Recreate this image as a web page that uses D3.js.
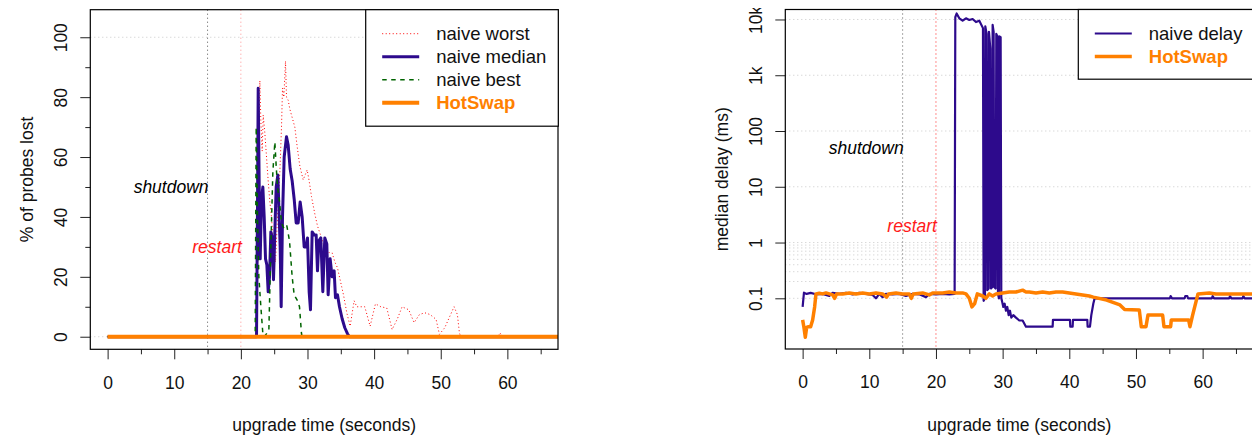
<!DOCTYPE html>
<html>
<head>
<meta charset="utf-8">
<script src="https://cdn.jsdelivr.net/npm/d3@7"></script>
<style>
  body { margin: 0; background: #fff; }
  svg { display: block; font-family: "Liberation Sans", Arial, Helvetica, sans-serif; }
</style>
</head>
<body>
<svg id="chart" width="1252" height="437"></svg>
<script>
// data: [seconds, value]
var timeTicks = [0, 10, 20, 30, 40, 50, 60];
var timeMinor = [5, 15, 25, 35, 45, 55, 65];
var lossTicks = [0, 20, 40, 60, 80, 100];
var lossMinor = [10, 30, 50, 70, 90];
var delayTicks = [0.1, 1, 10, 100, 1000, 10000];
var delayTickLabels = ["0.1", "1", "10", "100", "1k", "10k"];
var delayGrid = [0.2, 0.3, 0.4, 0.5, 0.6, 0.7, 0.8, 0.9];

var worstLoss = [[0,0],[22.45,0],[22.6,50],[22.85,85.5],[23.0,72],[23.2,62],[23.35,74],[23.6,68],[23.85,60],
  [24.1,52],[24.35,45],[24.6,40],[24.9,30],[25.2,25],[25.5,40],[25.85,55],[26.1,70],[26.25,83],[26.45,80],
  [26.7,92],[26.85,80],[27.1,79],[27.35,76],[27.6,74],[28.1,70],[28.45,63.5],[28.85,57],[29.35,52.4],
  [29.95,55.7],[30.25,52],[30.6,46.8],[31.1,41],[31.5,37],[32.1,33],[32.5,30],[32.9,29],[33.3,28],[33.7,28],
  [34.1,25],[34.5,23],[35.0,18],[35.4,14],[35.9,8],[36.4,3.5],[37.0,12],[37.4,10],[37.8,10],[38.6,10],
  [39.4,3.5],[40.2,11],[41.0,10],[41.9,9.6],[42.7,2.4],[43.5,6],[44.2,10],[45.2,9],[46.0,4.7],[46.8,7.4],
  [47.6,8],[48.4,7.4],[49.3,5.8],[49.8,0.8],[50.6,3],[51.4,7],[52.0,10],[52.5,7.4],[52.8,1.3],[53.0,0],
  [58.6,0],[58.9,1.3],[59.2,0],[70,0]];

var medianLoss = [[0,0],[22.35,0],[22.5,45],[22.6,83],[22.75,50],[22.9,26],[23.1,46],[23.3,50],[23.5,40],
  [23.7,26],[23.9,24],[24.1,15],[24.3,20],[24.5,35],[24.7,33],[24.9,19],[25.1,35],[25.3,50],[25.55,54],
  [25.75,40],[25.9,30],[26.05,10],[26.25,40],[26.5,60],[26.85,66.8],[27.1,64],[27.4,56],[27.7,52],[28.0,46],
  [28.3,38],[28.6,38],[28.9,45],[29.2,40],[29.5,30],[29.8,30],[30.0,33],[30.25,15],[30.45,9],[30.7,35],
  [31.0,34],[31.3,34],[31.5,22],[31.7,32],[32.0,33],[32.3,15],[32.6,33],[32.9,31],[33.1,14],[33.4,26],
  [33.7,20],[34.0,22],[34.2,13],[34.5,14],[34.8,10],[35.2,6],[35.6,3],[36.0,1],[36.3,0],[70,0]];

var bestLoss = [[0,0],[22.15,0],[22.3,70],[22.5,40],[22.7,20],[23.0,10],[23.3,1],[23.5,0],[24.2,2],
  [24.5,30],[24.8,55],[25.1,65],[25.3,57],[25.5,50],[25.8,45],[26.1,38],[26.5,36],[26.9,37],[27.3,32],
  [27.7,20],[28.0,14],[28.5,12],[28.8,10],[29.1,1],[29.2,0],[70,0]];

var hotswapLoss = [[0,0],[70,0]];

var naiveDelay = [[0,0.07],[0.2,0.126],[0.6,0.12],[1.2,0.125],[2,0.118],[3,0.12],[4,0.11],[4.5,0.125],
  [5.5,0.12],[6.5,0.125],[7.5,0.118],[8.5,0.125],[9.5,0.12],[10.5,0.115],[11,0.1],[11.5,0.12],[12,0.105],
  [12.5,0.12],[13.5,0.118],[14.5,0.12],[15.5,0.11],[16.5,0.12],[17.5,0.118],[18.5,0.105],[19,0.12],
  [20,0.118],[21,0.12],[22,0.118],[22.8,0.12],[22.9,11000],[23.1,12800],[23.5,10500],[24,9500],
  [24.5,10500],[25,9800],[25.5,10200],[26,9000],[26.5,9500],[27.05,7000],[27.15,0.09],[27.35,0.1],
  [27.4,7500],[27.6,5500],[27.7,0.14],[27.9,0.15],[27.95,6000],[28.15,3000],[28.25,0.15],[28.45,0.16],
  [28.5,8000],[28.65,6000],[28.75,0.16],[28.95,0.15],[29.05,5500],[29.2,5000],[29.3,0.12],[29.45,0.1],
  [29.5,5000],[29.7,4800],[29.8,0.1],[29.9,0.09],[30.1,0.07],[30.3,0.08],[30.5,0.06],[30.7,0.07],
  [30.9,0.05],[31.1,0.06],[31.3,0.045],[31.6,0.05],[32,0.045],[32.5,0.04],[33,0.04],[33.5,0.031],
  [37.5,0.031],[37.55,0.041],[40.1,0.041],[40.15,0.031],[40.5,0.031],[40.55,0.041],[42.7,0.041],
  [42.75,0.031],[43.1,0.031],[43.3,0.05],[43.6,0.08],[43.8,0.1],[55.1,0.1],[55.2,0.11],[55.4,0.1],
  [57.3,0.1],[57.4,0.11],[57.7,0.11],[57.8,0.1],[61.4,0.1],[61.5,0.11],[61.7,0.1],[64,0.1],[64.1,0.11],
  [64.3,0.1],[66,0.1],[66.1,0.11],[66.3,0.1],[70,0.1]];

var hotswapDelay = [[0,0.041],[0.2,0.03],[0.4,0.02],[0.6,0.03],[0.9,0.031],[1.2,0.031],[1.5,0.041],
  [1.8,0.07],[2.0,0.12],[2.5,0.123],[3,0.12],[3.5,0.125],[4,0.12],[4.5,0.115],[4.8,0.1],[5.1,0.12],
  [6,0.12],[7,0.125],[8,0.12],[9,0.125],[10,0.12],[11,0.125],[12,0.12],[12.6,0.105],[12.9,0.12],
  [14,0.125],[15,0.12],[16,0.12],[16.3,0.1],[16.6,0.12],[18,0.125],[19,0.115],[19.5,0.125],[21,0.125],
  [22,0.13],[23,0.125],[24,0.125],[24.5,0.12],[25,0.1],[25.4,0.07],[25.8,0.08],[26.2,0.12],[27,0.11],
  [27.5,0.1],[28,0.12],[28.5,0.11],[29,0.12],[30,0.125],[31,0.13],[32,0.13],[33,0.14],[33.5,0.13],
  [34,0.13],[35,0.125],[36,0.13],[37,0.125],[38,0.13],[39,0.13],[40,0.125],[41,0.12],[42,0.115],
  [43,0.11],[43.6,0.105],[45.6,0.093],[47.6,0.076],[48.3,0.063],[50.5,0.062],[50.8,0.031],[51.5,0.031],
  [51.8,0.05],[54,0.05],[54.2,0.031],[55.2,0.031],[55.3,0.041],[57.9,0.041],[58.1,0.031],[58.5,0.05],
  [59.3,0.12],[61,0.125],[62,0.12],[65,0.12],[70,0.12]];

var indigo = "#2d0a8c", orange = "#ff8000", green = "#006400";
var fs = "17.5px";

var svg = d3.select("#chart");

function panel(opts) {
  var x = opts.x, y = opts.y;
  var x0 = x.range()[0], x1 = x.range()[1], yb = y.range()[0], yt = y.range()[1];
  var g = svg.append("g");

  var clipId = opts.id + "-clip";
  svg.append("clipPath").attr("id", clipId)
    .append("rect").attr("x", x0).attr("y", yt).attr("width", x1 - x0).attr("height", yb - yt);

  //grid lines
  g.selectAll(".grid").data(opts.grid).enter().append("line")
    .attr("x1", x0).attr("x2", x1)
    .attr("y1", function (d) { return y(d); })
    .attr("y2", function (d) { return y(d); })
    .attr("stroke", "#c8c8c8").attr("stroke-dasharray", "1,3");

  //shutdown / restart markers
  g.append("line").attr("x1", x(15)).attr("x2", x(15)).attr("y1", yt).attr("y2", yb)
    .attr("stroke", "#555").attr("stroke-dasharray", "1,3");
  g.append("line").attr("x1", x(20)).attr("x2", x(20)).attr("y1", yt).attr("y2", yb)
    .attr("stroke", opts.restartColor).attr("stroke-dasharray", "1,3");

  var line = d3.line()
    .x(function (d) { return x(d[0]); })
    .y(function (d) { return y(d[1]); });

  var lines = g.append("g").attr("clip-path", "url(#" + clipId + ")");
  opts.series.forEach(function (s) {
    lines.append("path").datum(s.data)
      .attr("d", line)
      .attr("fill", "none")
      .attr("stroke", s.color)
      .attr("stroke-width", s.width)
      .attr("stroke-dasharray", s.dash || null)
      .attr("stroke-linejoin", "round");
  });

  g.append("text").attr("x", x(15) + 1).attr("y", y(opts.shutdownY)).attr("dy", "0.35em")
    .attr("text-anchor", "end").attr("font-style", "italic").attr("font-size", fs)
    .text("shutdown");
  g.append("text").attr("x", x(20) + 1).attr("y", y(opts.restartY)).attr("dy", "0.35em")
    .attr("text-anchor", "end").attr("font-style", "italic").attr("font-size", fs)
    .attr("fill", "#ff1a1a").text("restart");

  //x axis
  g.append("g").attr("transform", "translate(0," + yb + ")")
    .call(d3.axisBottom(x).tickValues(timeMinor).tickSize(5).tickFormat(""))
    .call(function (a) { a.select(".domain").remove(); });
  var xa = g.append("g").attr("transform", "translate(0," + yb + ")")
    .call(d3.axisBottom(x).tickValues(timeTicks).tickSize(10).tickPadding(16.8).tickFormat(d3.format("d")));
  xa.select(".domain").remove();
  xa.selectAll("text").attr("font-size", fs).attr("fill", "#111");

  //y axis
  if (opts.yMinor) {
    g.append("g").attr("transform", "translate(" + x0 + ",0)")
      .call(d3.axisLeft(y).tickValues(opts.yMinor).tickSize(5).tickFormat(""))
      .call(function (a) { a.select(".domain").remove(); });
  }
  var ya = g.append("g").attr("transform", "translate(" + x0 + ",0)")
    .call(d3.axisLeft(y).tickValues(opts.yTicks).tickSize(10)
      .tickFormat(function (d, i) { return opts.yLabels[i]; }));
  ya.select(".domain").remove();
  ya.selectAll("text")
    .attr("x", 0).attr("dy", "0.35em").attr("text-anchor", "middle")
    .attr("font-size", fs).attr("fill", "#111")
    .attr("transform", "translate(-29.6,0) rotate(-90)");
  if (opts.labelClip) {
    // the figure edge cuts the top label a little
    svg.append("clipPath").attr("id", opts.id + "-lab")
      .append("rect").attr("x", -100).attr("y", 8).attr("width", 110).attr("height", 429);
    ya.attr("clip-path", "url(#" + opts.id + "-lab)");
  }
  svg.selectAll(".tick line").attr("stroke", "#222");

  //plot box
  g.append("rect").attr("x", x0).attr("y", yt).attr("width", x1 - x0).attr("height", yb - yt)
    .attr("fill", "none").attr("stroke", "#000").attr("stroke-width", 1.2);

  //titles
  g.append("text").attr("x", (x0 + x1) / 2).attr("y", 425).attr("dy", "0.35em")
    .attr("text-anchor", "middle").attr("font-size", fs).attr("fill", "#111").text("upgrade time (seconds)");
  g.append("text").attr("transform", "translate(" + (x0 - 63.6) + "," + ((yb + yt) / 2) + ") rotate(-90)")
    .attr("dy", "0.35em").attr("text-anchor", "middle").attr("font-size", fs).attr("fill", "#111")
    .text(opts.yTitle);

  //legend
  var lg = g.append("g");
  lg.append("rect").attr("x", opts.legend.x).attr("y", yt).attr("width", opts.legend.w).attr("height", opts.legend.h)
    .attr("fill", "#fff").attr("stroke", "#000").attr("stroke-width", 1.2);
  opts.series.forEach(function (s, i) {
    var cy = yt + 24 + i * 23;
    lg.append("line").attr("x1", opts.legend.x + 16.5).attr("x2", opts.legend.x + 53.5)
      .attr("y1", cy).attr("y2", cy)
      .attr("stroke", s.color).attr("stroke-width", s.width).attr("stroke-dasharray", s.dash || null);
    lg.append("text").attr("x", opts.legend.x + 70.5).attr("y", cy).attr("dy", "0.35em")
      .attr("font-size", "18.5px")
      .attr("fill", s.bold ? orange : "#111").attr("font-weight", s.bold ? "bold" : null)
      .text(s.name);
  });
}

// left: probes lost
panel({
  id: "loss",
  x: d3.scaleLinear().domain([-2.6, 67.6]).range([90.3, 558]),
  y: d3.scaleLinear().domain([-4.2, 109.2]).range([349.3, 9.7]),
  grid: [0, 100],
  restartColor: "#ff9090",
  shutdownY: 50, restartY: 30,
  yTicks: lossTicks, yMinor: lossMinor,
  yLabels: lossTicks.map(String),
  yTitle: "% of probes lost",
  legend: { x: 365.7, w: 192.6, h: 116.5 },
  series: [
    { name: "naive worst", data: worstLoss, color: "#ff0000", width: 1, dash: "1,2.5" },
    { name: "naive median", data: medianLoss, color: indigo, width: 3 },
    { name: "naive best", data: bestLoss, color: green, width: 1.5, dash: "4.5,4.5" },
    { name: "HotSwap", data: hotswapLoss, color: orange, width: 4, bold: true }
  ]
});

// right: median delay, log scale
panel({
  id: "delay",
  x: d3.scaleLinear().domain([-2.6, 67.6]).range([785.3, 1253.3]),
  y: d3.scaleLog().domain([Math.pow(10, -1.909), Math.pow(10, 4.179)]).range([349, 9.5]),
  grid: delayTicks.concat(delayGrid),
  restartColor: "#ff2020",
  shutdownY: 50, restartY: 2,
  yTicks: delayTicks, yMinor: null,
  yLabels: delayTickLabels,
  labelClip: true,
  yTitle: "median delay (ms)",
  legend: { x: 1078.3, w: 200, h: 69.7 },
  series: [
    { name: "naive delay", data: naiveDelay, color: indigo, width: 2.2 },
    { name: "HotSwap", data: hotswapDelay, color: orange, width: 3.5, bold: true }
  ]
});
</script>
</body>
</html>
